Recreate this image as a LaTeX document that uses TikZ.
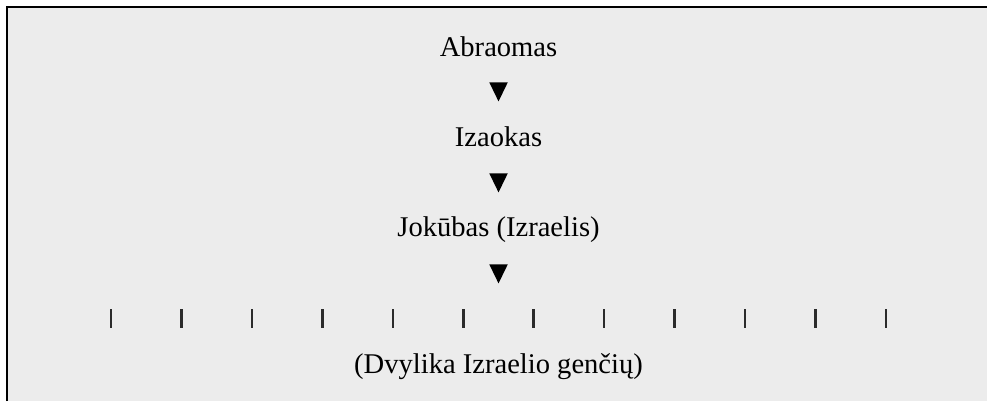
\documentclass[tikz,border=0pt]{standalone}
\usepackage{fontspec}
\setmainfont{Liberation Serif}
\usetikzlibrary{shapes.geometric}
\definecolor{boxgray}{HTML}{ECECEC}
\definecolor{tickgray}{HTML}{2B2B2B}
\tikzset{
  person/.style={font=\fontsize{21.5}{26}\selectfont, anchor=base, inner sep=0pt},
  tri/.style={fill=black, draw=none, regular polygon, regular polygon sides=3, shape border rotate=180,
    minimum size=0.566cm, inner sep=0pt, anchor=north, yscale=1.19, transform shape},
  tribemark/.style={fill=tickgray, inner sep=0pt, minimum width=0.066cm, minimum height=0.503cm, anchor=north}
}
\begin{document}
\begin{tikzpicture}
                \useasboundingbox (0,0) rectangle (26.114,-10.610);
                \fill[boxgray] (0.185,-0.185) rectangle (26.114,-10.610);
                \draw[line width=1.5pt] (0.185,-10.610) -- (0.185,-0.185) -- (26.114,-0.185);

                \node[person] (abraham) at (13.19,-1.482) {Abraomas};
                \node[tri] (a1) at (13.19,-2.170) {};
                \node[person] (isaac) at (13.19,-3.889) {Izaokas};
                \node[tri] (a2) at (13.19,-4.577) {};
                \node[person] (jacob) at (13.19,-6.244) {Jokūbas (Izraelis)};
                \node[tri] (a3) at (13.19,-6.985) {};

                % twelve tribes
                \foreach \i in {0,...,11}
                    \node[tribemark] (t\i) at ({2.937+\i*1.864},-8.176) {};

                \node[person] (tribes) at (13.19,-9.869) {(Dvylika Izraelio genčių)};
\end{tikzpicture}
\end{document}
